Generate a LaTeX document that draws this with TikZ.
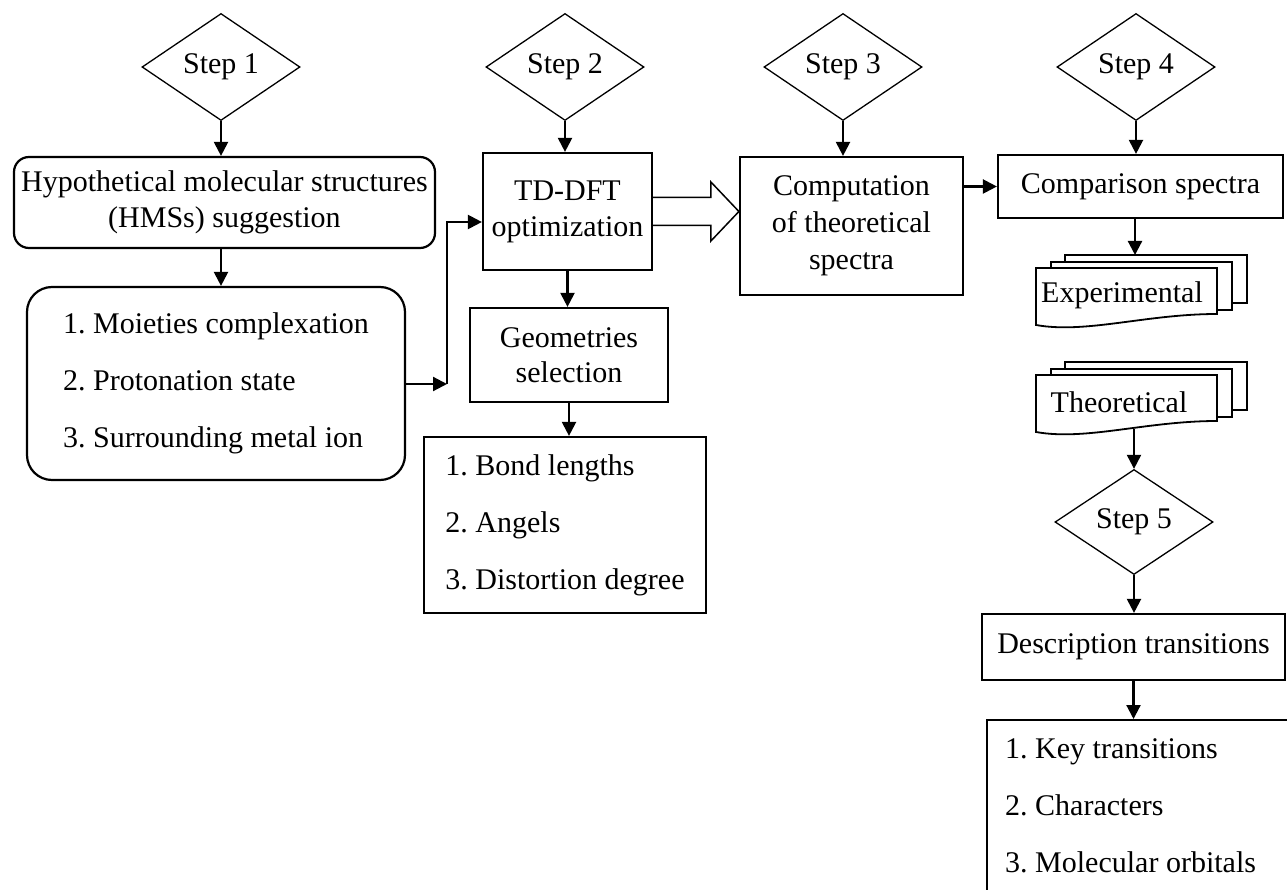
\documentclass[tikz,border=0pt]{standalone}
\usepackage{fontspec}
\setmainfont{Liberation Serif}
\usetikzlibrary{shapes.geometric,arrows.meta,calc}
\frenchspacing

\tikzset{
  stepdiamond/.style={diamond, draw, line width=1.3pt, aspect=1.5, inner sep=0pt,
    minimum width=158pt, minimum height=107pt},
  procbox/.style={rectangle, draw, line width=2.2pt, align=center, inner sep=0pt},
  roundbox/.style={procbox, rounded corners=15pt},
  arr/.style={line width=2.2pt, -{Triangle[length=14pt,width=14pt]}},
  sheet/.style={draw, line width=1.8pt, fill=white},
  listfont/.style={font=\fontsize{30}{57}\selectfont},
}

\begin{document}
\begin{tikzpicture}[x=1pt, y=1pt, font=\fontsize{30}{36}\selectfont]
  \useasboundingbox (0,0) rectangle (1287,-890);
  \fill[white] (0,0) rectangle (1287,-890);
  \clip (0,0) rectangle (1287,-890);

  % Steps
  \node[stepdiamond] (s1) at (221,-67) {Step 1};
  \node[stepdiamond] (s2) at (565,-67) {Step 2};
  \node[stepdiamond] (s3) at (843,-67) {Step 3};
  \node[stepdiamond] (s4) at (1136,-67) {Step 4};
  \node[stepdiamond, minimum height=105pt] (s5) at (1134,-522) {Step 5};

  % Step 1 column
  \node[roundbox, minimum width=421pt, minimum height=91pt] (hms) at (224.5,-202.5)
    {Hypothetical molecular structures\\(HMSs) suggestion};
  \node[roundbox, rounded corners=25pt, minimum width=378pt, minimum height=193pt,
    align=left, listfont] (moiety) at (216,-383.5)
    {1. Moieties complexation\\2. Protonation state\\3. Surrounding metal ion};

  % Step 2 column
  \node[procbox, minimum width=169pt, minimum height=117pt] (tddft) at (567.5,-211.5)
    {TD-DFT\\optimization};
  \node[procbox, minimum width=198pt, minimum height=94pt,
    font=\fontsize{30}{35}\selectfont] (geo) at (569,-355) {Geometries\\selection};
  \node[procbox, minimum width=282pt, minimum height=176pt, align=left, listfont]
    (bond) at (565,-525) {1. Bond lengths\\2. Angels\\3. Distortion degree};

  % Step 3 and 4
  \node[procbox, minimum width=223pt, minimum height=138pt,
    font=\fontsize{30}{37}\selectfont] (comp) at (851.5,-226)
    {Computation\\of theoretical\\spectra};
  \node[procbox, minimum width=285pt, minimum height=63pt] (cmp) at (1140.5,-186.5)
    {Comparison spectra};

  % Spectra stacks
  \begin{scope}[shift={(1036,-268)}]
    \draw[sheet] (29,13) rectangle ++(182,-48);
    \draw[sheet] (15,6) rectangle ++(181,-48);
    \draw[sheet] (0,0) -- (181,0) -- (181,-46) .. controls (110,-46) and (50,-66) .. (0,-57) -- cycle;
    \node (exp) at (86,-27) {Experimental};
    \coordinate (exptop) at (99,13);
  \end{scope}
  \begin{scope}[shift={(1036,-375)}]
    \draw[sheet] (29,13) rectangle ++(182,-48);
    \draw[sheet] (15,6) rectangle ++(181,-48);
    \draw[sheet] (0,0) -- (181,0) -- (181,-46) .. controls (110,-46) and (50,-66) .. (0,-57) -- cycle;
    \node (theo) at (83,-27) {Theoretical};
    \coordinate (theobot) at (98,-54);
  \end{scope}

  % Step 5 column
  \node[procbox, minimum width=303pt, minimum height=66pt] (desc) at (1133.5,-647)
    {Description transitions};
  \node[procbox, anchor=north west, minimum width=330pt, minimum height=200pt]
    (keybox) at (986,-719) {};
  \node[anchor=north west, align=left, inner sep=0pt, listfont] (keys) at (1005,-738)
    {1. Key transitions\\2. Characters\\3. Molecular orbitals};

  % Connectors
  \coordinate (elbow) at (447,-384);
  \coordinate (hollowtip) at (comp.west |- tddft.east);
  \draw[arr] (s1.south) -- (s1.south |- hms.north);
  \draw[arr] (s1.south |- hms.south) -- (s1.south |- moiety.north);
  \draw[arr] (moiety.east |- elbow) -- (elbow);
  \draw[arr] (elbow) |- ($(tddft.west)+(0,-10.5)$);
  \draw[arr] (s2.south) -- (s2.south |- tddft.north);
  \draw[arr] (tddft.south) -- (tddft.south |- geo.north);
  \draw[arr] (geo.south) -- (geo.south |- bond.north);
  \draw[line width=1.5pt, fill=white] ($(tddft.east)+(0,14)$) -- ($(hollowtip)+(-28,14)$)
    -- ($(hollowtip)+(-28,29.5)$) -- (hollowtip) -- ($(hollowtip)+(-28,-29.5)$)
    -- ($(hollowtip)+(-28,-14)$) -- ($(tddft.east)+(0,-14)$);
  \draw[arr] (s3.south) -- (s3.south |- comp.north);
  \draw[arr] (comp.east |- cmp.west) -- (cmp.west);
  \draw[arr] (s4.south) -- (s4.south |- cmp.north);
  \draw[arr] (exptop |- cmp.south) -- (exptop);
  \draw[arr] (theobot) -- (theobot |- s5.north);
  \draw[arr] (s5.south) -- (s5.south |- desc.north);
  \draw[arr] (desc.south) -- (desc.south |- keybox.north);
\end{tikzpicture}
\end{document}
